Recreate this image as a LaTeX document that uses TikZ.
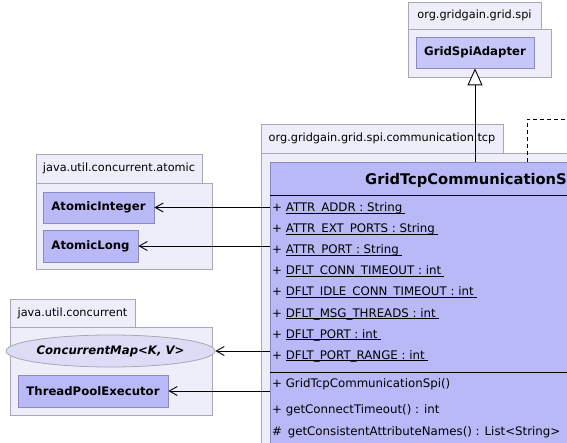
\documentclass[tikz,border=0pt]{standalone}
\usepackage{fontspec}
\setmainfont{DejaVu Sans}
\usetikzlibrary{arrows.meta,shapes.geometric}
\definecolor{pkgfill}{HTML}{EEEEFA}
\definecolor{pkgborder}{HTML}{A8A8B4}
\definecolor{clsfill}{HTML}{B9B9F8}
\definecolor{clsfillb}{HTML}{C6C6F8}
\definecolor{clsborder}{HTML}{8A8AC0}
\definecolor{ellfill}{HTML}{DCDCF6}
\newcommand\myul[1]{\setbox0\hbox{#1\hspace{3pt}}\rlap{\rule[-2pt]{\wd0}{0.6pt}}\box0}
\tikzset{
  pkg/.style={draw=pkgborder,fill=pkgfill,line width=0.8pt},
  pkgtab/.style={draw=pkgborder,fill=pkgfill,line width=0.8pt,rectangle,inner sep=0pt,font=\fontsize{11.3}{13}\selectfont,text=black},
  cls/.style={draw=clsborder,fill=clsfill,line width=0.8pt,rectangle,inner sep=0pt,font=\fontsize{11.7}{13}\selectfont\bfseries},
  attr/.style={anchor=base west,inner sep=0pt,font=\fontsize{11.8}{14}\selectfont},
  dep/.style={-{Straight Barb[length=8pt,width=9pt,line width=0.9pt]},line width=0.9pt},
  gen/.style={-{Triangle[open,length=17pt,width=15pt,fill=white]},line width=0.9pt},
  real/.style={dashed,line width=0.9pt,dash pattern=on 4pt off 3pt}
}
\begin{document}
\begin{tikzpicture}[x=1pt,y=-1pt]
\useasboundingbox (0,0) rectangle (567,443);
\clip (0,0) rectangle (567,443);
\fill[white] (0,0) rectangle (567,443);

% package org.gridgain.grid.spi
\node[pkgtab,minimum width=133pt,minimum height=27pt] (ptab1) at (474.5,15.5) {org.gridgain.grid.spi};
\draw[pkg] (408,29) rectangle (551,77);
\node[cls,fill=clsfillb,minimum width=118pt,minimum height=31pt] (gsa) at (475,52.5) {GridSpiAdapter};

% package org.gridgain.grid.spi.communication.tcp
\node[pkgtab,minimum width=242pt,minimum height=29pt] (ptab2) at (382,138.5) {org.gridgain.grid.spi.communication.tcp};
\draw[pkg] (261,153) rectangle (720,470);

% main class
\node[cls,minimum width=430pt,minimum height=308pt] (gtc) at (485,316) {};
\node[anchor=base west,inner sep=0pt,font=\fontsize{14.7}{17}\selectfont\bfseries] (title) at (365,185) {GridTcpCommunicationSpi};
\draw[line width=0.9pt] (270,195) -- (700,195);
\draw[line width=0.9pt] (270,372) -- (700,372);
\node[attr] (a1) at (272,212) {+ \myul{ATTR\_ADDR : String}};
\node[attr] (a2) at (272,233) {+ \myul{ATTR\_EXT\_PORTS : String}};
\node[attr] (a3) at (272,254) {+ \myul{ATTR\_PORT : String}};
\node[attr] (a4) at (272,275) {+ \myul{DFLT\_CONN\_TIMEOUT : int}};
\node[attr] (a5) at (272,296) {+ \myul{DFLT\_IDLE\_CONN\_TIMEOUT : int}};
\node[attr] (a6) at (272,317) {+ \myul{DFLT\_MSG\_THREADS : int}};
\node[attr] (a7) at (272,338) {+ \myul{DFLT\_PORT : int}};
\node[attr] (a8) at (272,359) {+ \myul{DFLT\_PORT\_RANGE : int}};
\node[attr] (m1) at (272,387) {+ GridTcpCommunicationSpi()};
\node[attr] (m2) at (272,413) {+ getConnectTimeout() : int};
\node[attr] (m3) at (272,435) {\#\, getConsistentAttributeNames() : List<String>};

% package java.util.concurrent.atomic
\node[pkgtab,minimum width=166pt,minimum height=29pt] (ptab3) at (119,168.5) {java.util.concurrent.atomic};
\draw[pkg] (36,183) rectangle (212,269);
\node[cls,minimum width=111pt,minimum height=31pt] (ai) at (98.5,207.5) {AtomicInteger};
\node[cls,minimum width=95pt,minimum height=32pt] (al) at (90.5,246) {AtomicLong};

% package java.util.concurrent
\node[pkgtab,minimum width=125pt,minimum height=28pt] (ptab4) at (72.5,313) {java.util.concurrent};
\draw[pkg] (10,327) rectangle (212,415);
\node[ellipse,draw=pkgborder,fill=ellfill,line width=0.8pt,inner sep=0pt,minimum width=185pt,minimum height=32pt,font=\fontsize{11.7}{13}\selectfont\bfseries\itshape] (cm) at (110.5,351) {ConcurrentMap<K, V>};
\node[cls,minimum width=150pt,minimum height=32pt] (tpe) at (93,391) {ThreadPoolExecutor};

% connectors
\coordinate (iface) at (640,119);
\draw[gen] (gtc.north -| gsa.south) -- (gsa.south);
\draw[real] (gtc.north -| 527,0) |- (iface);
\draw[dep] (ai -| gtc.west) -- (ai.east);
\draw[dep] (al -| gtc.west) -- (al.east);
\draw[dep] (cm -| gtc.west) -- (cm.east);
\draw[dep] (tpe -| gtc.west) -- (tpe.east);
\end{tikzpicture}
\end{document}
